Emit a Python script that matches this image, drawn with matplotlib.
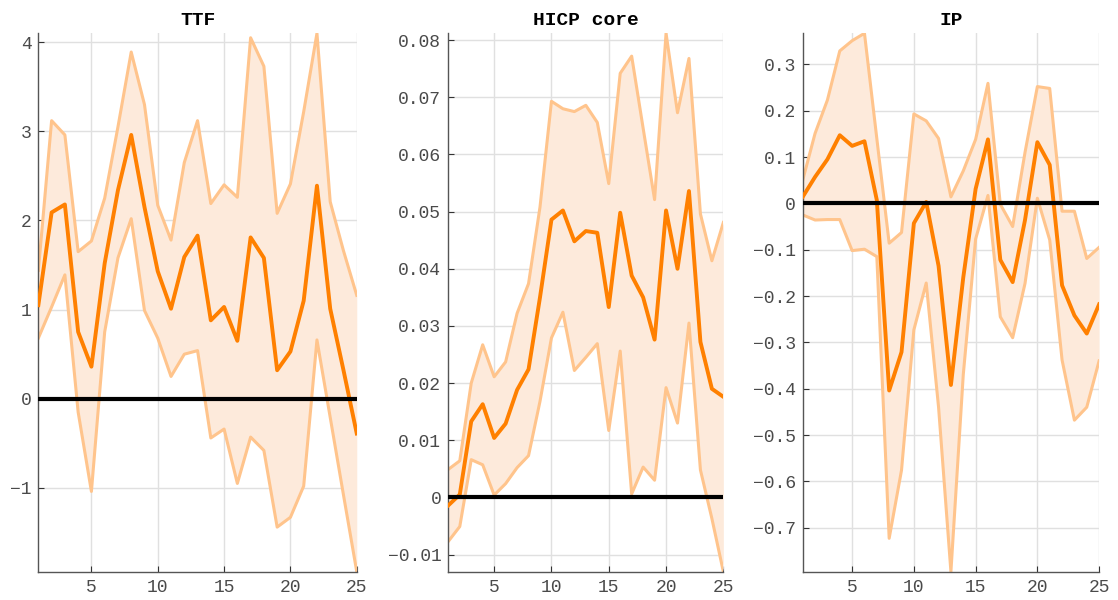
import numpy as np
import matplotlib
matplotlib.use("Agg")
import matplotlib.pyplot as plt

# horizon
horizon = np.arange(1, 26)
titles = ["TTF", "HICP core", "IP"]

# TTF response: upper band, median, lower band
ttf_upper = [1.44, 3.12, 2.96, 1.65, 1.77, 2.25, 3.05, 3.89, 3.30, 2.17, 1.78, 2.65, 3.12,
             2.19, 2.40, 2.26, 4.05, 3.73, 2.08, 2.41, 3.22, 4.10, 2.21, 1.66, 1.16]
ttf_mid = [1.05, 2.09, 2.18, 0.75, 0.36, 1.52, 2.34, 2.96, 2.15, 1.43, 1.01, 1.59, 1.83,
           0.88, 1.03, 0.65, 1.81, 1.58, 0.32, 0.53, 1.10, 2.39, 1.01, 0.32, -0.39]
ttf_lower = [0.68, 1.03, 1.39, -0.15, -1.04, 0.75, 1.58, 2.02, 0.99, 0.68, 0.25, 0.50, 0.54,
             -0.44, -0.34, -0.95, -0.43, -0.58, -1.44, -1.33, -0.98, 0.66, -0.21, -1.08, -1.94]

# HICP core response
hicp_upper = [0.0049, 0.0064, 0.0200, 0.0267, 0.0211, 0.0237, 0.0322, 0.0374, 0.0508, 0.0693,
              0.0680, 0.0675, 0.0686, 0.0656, 0.0549, 0.0742, 0.0772, 0.0646, 0.0521, 0.0812,
              0.0673, 0.0768, 0.0496, 0.0414, 0.0481]
hicp_mid = [-0.0014, 0.0005, 0.0133, 0.0163, 0.0104, 0.0129, 0.0188, 0.0224, 0.0350, 0.0486,
            0.0502, 0.0448, 0.0466, 0.0463, 0.0333, 0.0498, 0.0388, 0.0350, 0.0276, 0.0502,
            0.0400, 0.0536, 0.0272, 0.0190, 0.0176]
hicp_lower = [-0.0077, -0.0051, 0.0066, 0.0057, 0.0004, 0.0024, 0.0052, 0.0073, 0.0168, 0.0279,
              0.0324, 0.0222, 0.0245, 0.0269, 0.0117, 0.0256, 0.0006, 0.0053, 0.0030, 0.0192,
              0.0130, 0.0305, 0.0048, -0.0037, -0.0130]

# IP response
ip_upper = [0.050, 0.151, 0.223, 0.329, 0.351, 0.367, 0.140, -0.086, -0.063, 0.193, 0.178,
            0.140, 0.014, 0.070, 0.138, 0.259, -0.002, -0.050, 0.110, 0.252, 0.248, -0.017,
            -0.017, -0.119, -0.095]
ip_mid = [0.014, 0.057, 0.095, 0.147, 0.124, 0.134, 0.007, -0.404, -0.321, -0.043, 0.003,
          -0.135, -0.392, -0.160, 0.031, 0.138, -0.122, -0.170, -0.036, 0.132, 0.083, -0.177,
          -0.242, -0.281, -0.218]
ip_lower = [-0.025, -0.036, -0.035, -0.035, -0.102, -0.099, -0.115, -0.723, -0.576, -0.273,
            -0.172, -0.440, -0.795, -0.370, -0.077, 0.017, -0.245, -0.290, -0.173, 0.011,
            -0.079, -0.338, -0.468, -0.440, -0.340]

# tick values
xticks = [5, 10, 15, 20, 25]
ttf_yticks = [-1, 0, 1, 2, 3, 4]
hicp_yticks = [-0.01, 0, 0.01, 0.02, 0.03, 0.04, 0.05, 0.06, 0.07, 0.08]
ip_yticks = [-0.7, -0.6, -0.5, -0.4, -0.3, -0.2, -0.1, 0, 0.1, 0.2, 0.3]

panels = [
    (ttf_upper, ttf_mid, ttf_lower, ttf_yticks),
    (hicp_upper, hicp_mid, hicp_lower, hicp_yticks),
    (ip_upper, ip_mid, ip_lower, ip_yticks),
]

# axes placement in figure fraction (left, width)
boxes = [(0.0343, 0.2848), (0.4010, 0.2460), (0.7180, 0.2651)]
bottom, height = 0.0472, 0.8973

mono = "Liberation Mono"
fill_col = "#fdeadb"
band_col = "#ffc48c"
mid_col = "#ff8000"
label_col = "#4a4a4a"


def fmt(v):
    s = f"{v:g}"
    return s.replace("-", "\u2212")


fig = plt.figure(figsize=(11.18, 6.0), dpi=100)

for (up, mid, lo, yt), (left, width), title in zip(panels, boxes, titles):
    ax = fig.add_axes([left, bottom, width, height])
    up = np.array(up)
    lo = np.array(lo)
    ax.fill_between(horizon, lo, up, color=fill_col, linewidth=0, zorder=1)
    ax.plot(horizon, up, color=band_col, linewidth=2.2, zorder=2)
    ax.plot(horizon, lo, color=band_col, linewidth=2.2, zorder=2)
    ax.plot(horizon, mid, color=mid_col, linewidth=2.8, zorder=3)
    ax.axhline(0, color="black", linewidth=3.0, zorder=4)

    ax.set_xlim(1, 25)
    ax.set_ylim(lo.min(), up.max())
    ax.set_xticks(xticks)
    ax.set_xticklabels([str(t) for t in xticks])
    ax.set_yticks(yt)
    ax.set_yticklabels([fmt(t) for t in yt])

    ax.grid(True, color="#e0e0e0", linewidth=1.0, zorder=0)
    ax.set_axisbelow(True)
    for side in ["top", "right"]:
        ax.spines[side].set_visible(False)
    for side in ["left", "bottom"]:
        ax.spines[side].set_color("#555555")
        ax.spines[side].set_linewidth(1.0)
    ax.tick_params(direction="in", length=4, width=0.8, colors="#333333",
                   labelsize=13, pad=5)
    for lab in ax.get_xticklabels() + ax.get_yticklabels():
        lab.set_fontfamily(mono)
        lab.set_color(label_col)
    ax.set_title(title, fontfamily=mono, fontweight="bold", fontsize=14, pad=6)

fig.savefig("out.png", dpi=100)
